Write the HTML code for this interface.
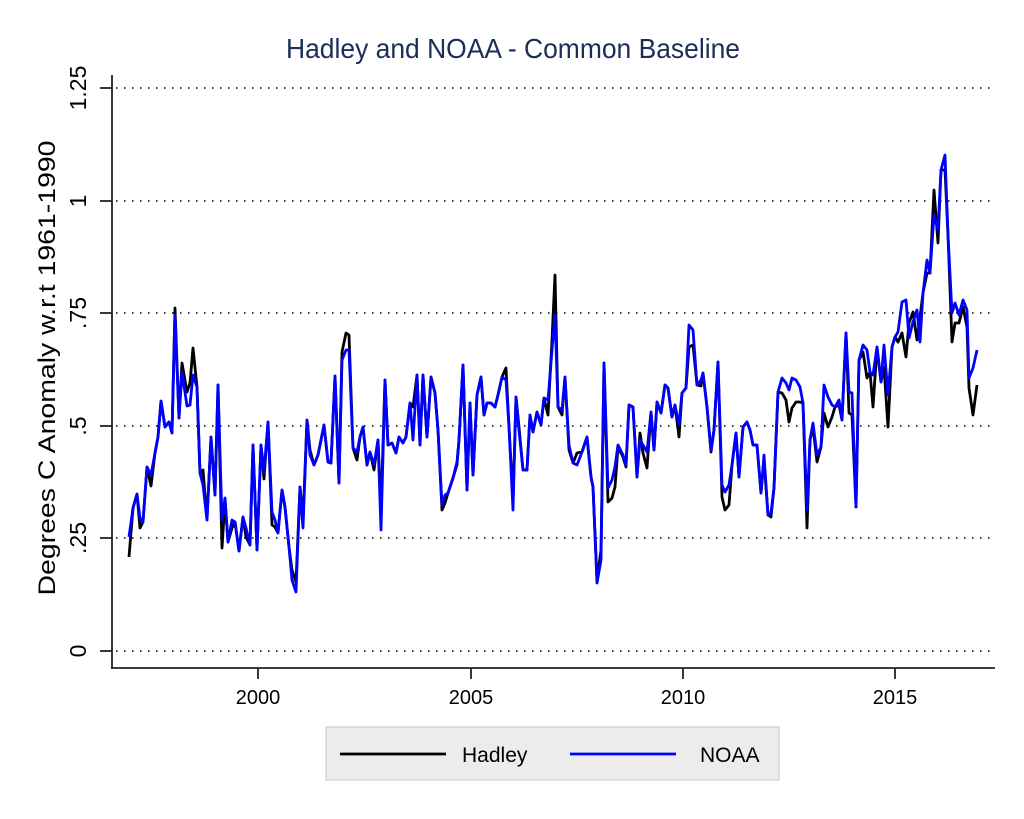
<!DOCTYPE html>
<html><head><meta charset="utf-8"><style>
html,body{margin:0;padding:0;background:#fff;}
svg{display:block;font-family:"Liberation Sans",Arial,sans-serif;}
</style></head><body>
<svg id="s" width="1024" height="819" viewBox="0 0 1024 819" xmlns="http://www.w3.org/2000/svg">
<rect width="1024" height="819" fill="#fff"/>
<text x="513" y="58" font-size="28" fill="#1c2d57" text-anchor="middle" textLength="454" lengthAdjust="spacingAndGlyphs">Hadley and NOAA - Common Baseline</text>
<g stroke="#000" stroke-width="1.6" stroke-dasharray="1.5 6.5" fill="none">
<line x1="116" y1="88" x2="992" y2="88"/>
<line x1="116" y1="201" x2="992" y2="201"/>
<line x1="116" y1="313" x2="992" y2="313"/>
<line x1="116" y1="426" x2="992" y2="426"/>
<line x1="116" y1="538" x2="992" y2="538"/>
<line x1="116" y1="651" x2="992" y2="651"/>
</g>
<g stroke="#222" stroke-width="1.8" fill="none">
<line x1="112" y1="75" x2="112" y2="669"/>
<line x1="111" y1="668" x2="995" y2="668"/>
<line x1="100" y1="88" x2="112" y2="88"/>
<line x1="100" y1="201" x2="112" y2="201"/>
<line x1="100" y1="313" x2="112" y2="313"/>
<line x1="100" y1="426" x2="112" y2="426"/>
<line x1="100" y1="538" x2="112" y2="538"/>
<line x1="100" y1="651" x2="112" y2="651"/>
<line x1="258" y1="668" x2="258" y2="679"/>
<line x1="471" y1="668" x2="471" y2="679"/>
<line x1="683" y1="668" x2="683" y2="679"/>
<line x1="895" y1="668" x2="895" y2="679"/>
</g>
<g font-size="23" fill="#000" text-anchor="middle">
<text transform="translate(86,88) rotate(-90)">1.25</text>
<text transform="translate(86,201) rotate(-90)">1</text>
<text transform="translate(86,313) rotate(-90)">.75</text>
<text transform="translate(86,426) rotate(-90)">.5</text>
<text transform="translate(86,538) rotate(-90)">.25</text>
<text transform="translate(86,651) rotate(-90)">0</text>
<text x="258" y="704" font-size="20">2000</text>
<text x="471" y="704" font-size="20">2005</text>
<text x="683" y="704" font-size="20">2010</text>
<text x="895" y="704" font-size="20">2015</text>
<text transform="translate(55,368) rotate(-90)" font-size="24" textLength="455" lengthAdjust="spacingAndGlyphs">Degrees C Anomaly w.r.t 1961-1990</text>
</g>
<g id="lines"></g>
<rect x="326" y="727" width="453" height="53" fill="#ececec" stroke="#c5d3e0" stroke-width="1.2"/>
<line x1="340" y1="754" x2="446" y2="754" stroke="#000" stroke-width="2.8"/>
<text x="462" y="762" font-size="21">Hadley</text>
<line x1="570" y1="754" x2="676" y2="754" stroke="#0000ff" stroke-width="2.8"/>
<text x="700" y="762" font-size="21">NOAA</text>
</svg>
<script>
var H=[129,557,133,508,137,494,140,528,143,522,147,467,151,486,155,453,158,437,161,401,165,427,169,422,172,433,175,308,179,418,182,363,187,392,190,383,193,348,197,387,200,473,203,470,207,520,211,437,215,495,218,385,222,548,225,500,228,542,232,528,235,522,239,551,243,517,246,537,250,545,253,445,257,550,261,445,264,479,268,422,272,525,275,527,278,533,282,490,285,507,289,547,292,570,296,582,300,487,303,520,307,420,310,450,314,465,318,455,321,440,324,425,328,462,331,463,335,376,339,483,342,352,346,333,349,335,353,448,357,460,360,437,363,427,367,465,370,452,374,470,378,440,381,510,385,380,388,445,392,443,396,453,399,437,403,443,406,437,410,403,413,407,417,375,420,445,423,375,427,437,431,377,435,393,438,430,442,510,445,503,448,493,453,478,457,465,459,440,463,365,467,490,470,403,473,475,477,395,481,377,484,415,487,403,491,403,495,407,498,395,502,377,506,368,509,427,513,500,516,397,519,427,523,470,527,470,530,415,533,432,537,412,541,425,544,398,548,415,552,340,555,275,558,407,562,415,565,377,569,450,573,463,577,453,582,452,587,437,591,477,593,487,597,580,601,550,604,363,608,502,612,498,615,487,618,447,623,457,626,467,629,405,633,407,637,477,640,433,643,453,647,468,651,412,654,450,657,402,661,413,665,385,668,388,672,417,675,405,679,437,682,393,686,388,689,347,693,345,697,385,701,386,703,373,707,407,711,452,714,430,718,362,722,497,725,510,729,505,732,465,736,433,739,477,743,427,747,422,750,430,753,445,757,445,761,493,764,460,768,515,771,517,774,488,778,392,782,393,786,400,789,422,792,408,796,402,800,402,803,403,807,528,810,440,813,427,817,462,821,447,824,413,828,427,832,417,835,407,839,405,842,420,846,333,849,413,852,415,856,507,859,360,863,352,867,378,870,372,873,407,877,347,881,382,884,367,888,427,892,347,895,337,898,342,902,333,906,357,909,323,913,312,917,340,920,317,923,293,927,273,930,273,934,190,938,243,941,170,945,170,948,235,952,342,955,323,959,323,963,307,967,327,969,388,973,415,977,385];
var ov={129:537,140:518,151:475,175:315,182:372,187:406,190:405,193:375,203:485,222:520,225:498,232:520,246:528,264:472,272:512,275:520,296:592,292:580,303:528,342:360,346:350,349:350,310:455,357:452,367:465,374:465,381:530,413:440,442:505,445:495,457:462,506:380,513:510,519:430,548:400,552:350,555:315,562:410,569:445,577:465,597:583,601:560,608:488,612:480,615:467,618:445,623:455,626:465,640:440,643:445,647:452,679:425,689:325,693:330,701:380,711:450,722:485,725:492,729:485,764:455,771:513,782:378,786:383,789:390,792:378,796:380,800:387,807:510,813:423,817:455,824:385,828:397,832:405,839:400,849:392,852:393,863:345,867:350,873:375,884:345,888:395,898:332,902:302,906:300,909:338,913:322,917:310,920:342,927:260,934:215,938:230,945:155,952:313,955:303,959:315,963:300,967:310,969:378,973:368,977:350};
function pts(a,o){var s=[];for(var i=0;i<a.length;i+=2){var x=a[i],y=a[i+1];if(o&&o[x])y=o[x];s.push(x+","+y);}return s.join(" ");}
var g=document.getElementById("lines");
g.innerHTML='<polyline fill="none" stroke="#000" stroke-width="2.8" stroke-linejoin="round" points="'+pts(H)+'"/><polyline fill="none" stroke="#0000ff" stroke-width="2.8" stroke-linejoin="round" points="'+pts(H,ov)+'"/>';
</script>
</body></html>
